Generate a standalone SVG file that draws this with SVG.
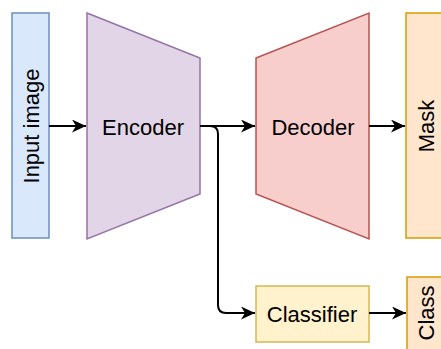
<svg xmlns="http://www.w3.org/2000/svg" width="441" height="349" viewBox="0 0 441 349">
<style>
text{font-family:"Liberation Sans",Arial,sans-serif;font-size:22px;fill:#000;text-anchor:middle;dominant-baseline:central}
.e{fill:none;stroke:#000;stroke-width:2}
.n{stroke-width:1.5}
</style>
<defs>
<marker id="a" markerUnits="userSpaceOnUse" markerWidth="15" markerHeight="13" refX="14" refY="6.5" orient="auto">
<path d="M0,0 L14,6.5 L0,13 L4,6.5 z" fill="#000"/>
</marker>
</defs>
<rect width="441" height="349" fill="#fff"/>
<g id="input"><rect class="n" x="12" y="13" width="37" height="225" fill="#dae8fc" stroke="#6c8ebf"/><text transform="translate(31,126) rotate(-90)">Input image</text></g>
<g id="encoder"><path class="n" d="M87,13 L200,58 L200,194 L87,239 Z" fill="#e1d5e7" stroke="#9673a6"/><text x="143" y="127">Encoder</text></g>
<g id="decoder"><path class="n" d="M256,58 L369,13 L369,239 L256,194 Z" fill="#f8cecc" stroke="#b85450"/><text x="313" y="127">Decoder</text></g>
<g id="mask"><rect class="n" x="406" y="13" width="60" height="225" fill="#ffe6cc" stroke="#d79b00"/><text transform="translate(426,126) rotate(-90)">Mask</text></g>
<g id="classifier"><rect class="n" x="256" y="286" width="113" height="56" fill="#fff2cc" stroke="#d6b656"/><text x="312" y="314">Classifier</text></g>
<g id="class"><rect class="n" x="407" y="277" width="60" height="90" fill="#ffe6cc" stroke="#d79b00"/><text transform="translate(426,313) rotate(-90)">Class</text></g>
<g id="connectors">
<path class="e" d="M49,126 L86,126" marker-end="url(#a)"/>
<path class="e" d="M200,126 L255,126" marker-end="url(#a)"/>
<path class="e" d="M369,126 L405,126" marker-end="url(#a)"/>
<path class="e" d="M200,126 L210,126 Q218,126 218,134 L218,305 Q218,313 226,313 L255,313" marker-end="url(#a)"/>
<path class="e" d="M369,313 L406,313" marker-end="url(#a)"/>
</g>
</svg>
